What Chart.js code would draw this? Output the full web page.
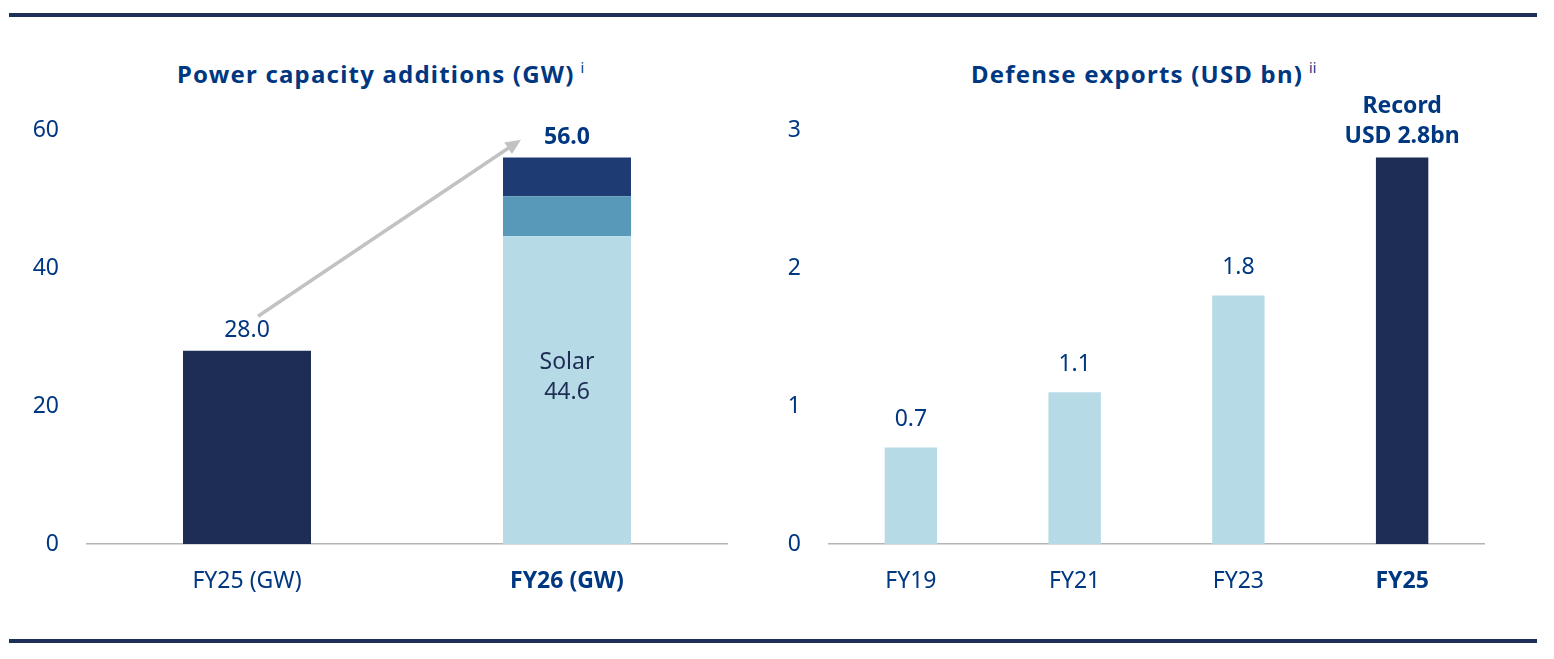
<!DOCTYPE html>
<html lang="en">
<head>
  <meta charset="UTF-8">
  <title>Power capacity additions and defense exports</title>
  <script src="https://cdn.jsdelivr.net/npm/chart.js"></script>
  <style>
    body {
      margin: 0;
      background: #fff;
      font-family: "Noto Sans", Arial, sans-serif;
    }
    .page {
      position: relative;
      width: 1554px;
      height: 659px;
      overflow: hidden;
    }
    .rule {
      position: absolute;
      left: 9px;
      width: 1528px;
      height: 4px;
      background: #1f3058;
    }
    .title {
      position: absolute;
      top: 57px;
      font-size: 24px;
      font-weight: bold;
      letter-spacing: 1.2px;
      color: #003781;
      white-space: nowrap;
    }
    .title sup {
      font-size: 14px;
      font-weight: normal;
      letter-spacing: 0;
      margin-left: 6px;
      vertical-align: 10px;
    }
    canvas {
      position: absolute;
      top: 0;
    }
  </style>
</head>
<body>
  <div class="page">
    <div class="rule" style="top: 13px;"></div>
    <div class="rule" style="top: 639px;"></div>
    <div class="title" style="left: 177px;">Power capacity additions (GW)<sup>i</sup></div>
    <div class="title" style="left: 971px;">Defense exports (USD bn)<sup>ii</sup></div>
    <canvas id="powerChart" width="760" height="659" style="left: 0;"></canvas>
    <canvas id="defenseChart" width="794" height="659" style="left: 760px;"></canvas>
  </div>

  <script>
    // left chart: power capacity additions (GW)
    const powerLabels = ['FY25 (GW)', 'FY26 (GW)'];
    const powerFY25 = [28.0, null];
    const powerSolar = [null, 44.6];
    const powerMid = [null, 5.8];
    const powerTop = [null, 5.6];
    const powerTotals = [28.0, 56.0];
    const powerTicks = [0, 20, 40, 60];

    // right chart: defense exports (USD bn)
    const defenseLabels = ['FY19', 'FY21', 'FY23', 'FY25'];
    const defenseValues = [0.7, 1.1, 1.8, 2.8];
    const defenseTicks = [0, 1, 2, 3];

    const textBlue = '#003781';
    const navy = '#1d2d54';
    const midBlue = '#1f3b73';
    const steel = '#5898b9';
    const lightBlue = '#b6dbe6';
    const axisGrey = '#b4b4b4';
    const fontFamily = '"Noto Sans", Arial, sans-serif';
    const fontSize = 23;

    Chart.defaults.font.family = fontFamily;
    Chart.defaults.color = textBlue;

    function drawText(ctx, text, x, y, weight, color) {
      ctx.save();
      ctx.font = weight + ' ' + fontSize + 'px ' + fontFamily;
      ctx.fillStyle = color;
      ctx.textAlign = 'center';
      ctx.textBaseline = 'middle';
      ctx.fillText(text, x, y);
      ctx.restore();
    }

    const powerLabelsPlugin = {
      id: 'powerLabels',
      afterDatasetsDraw(chart) {
        const ctx = chart.ctx;
        const xs = chart.scales.x;
        const ys = chart.scales.y;

        // arrow from FY25 to FY26
        const x0 = xs.getPixelForValue(0) + 11;
        const y0 = ys.getPixelForValue(33);
        const x1 = xs.getPixelForValue(1) - 46;
        const y1 = ys.getPixelForValue(58.6);
        const ang = Math.atan2(y1 - y0, x1 - x0);
        const head = 17;
        ctx.save();
        ctx.strokeStyle = '#c2c2c2';
        ctx.fillStyle = '#c2c2c2';
        ctx.lineWidth = 3.5;
        ctx.beginPath();
        ctx.moveTo(x0, y0);
        ctx.lineTo(x1 - Math.cos(ang) * head * 0.7, y1 - Math.sin(ang) * head * 0.7);
        ctx.stroke();
        ctx.beginPath();
        ctx.moveTo(x1, y1);
        ctx.lineTo(x1 - head * Math.cos(ang - 0.42), y1 - head * Math.sin(ang - 0.42));
        ctx.lineTo(x1 - head * Math.cos(ang + 0.42), y1 - head * Math.sin(ang + 0.42));
        ctx.closePath();
        ctx.fill();
        ctx.restore();

        // totals above bars
        powerTotals.forEach((v, i) => {
          const x = xs.getPixelForValue(i);
          const y = ys.getPixelForValue(v) - 20;
          drawText(ctx, v.toFixed(1), x, y, i === 1 ? 'bold' : 'normal', textBlue);
        });

        // solar segment label
        const sx = xs.getPixelForValue(1);
        const sTop = ys.getPixelForValue(powerSolar[1]);
        drawText(ctx, 'Solar', sx, sTop + 126, 'normal', navy);
        drawText(ctx, powerSolar[1].toFixed(1), sx, sTop + 156, 'normal', navy);
      }
    };

    const defenseLabelsPlugin = {
      id: 'defenseLabels',
      afterDatasetsDraw(chart) {
        const ctx = chart.ctx;
        const xs = chart.scales.x;
        const ys = chart.scales.y;
        defenseValues.forEach((v, i) => {
          const x = xs.getPixelForValue(i);
          const top = ys.getPixelForValue(v);
          if (i === defenseValues.length - 1) {
            drawText(ctx, 'Record', x, top - 51, 'bold', textBlue);
            drawText(ctx, 'USD ' + v.toFixed(1) + 'bn', x, top - 21, 'bold', textBlue);
          } else {
            drawText(ctx, v.toFixed(1), x, top - 28, 'normal', textBlue);
          }
        });
      }
    };

    function axisOptions(ticks, max, lastBold, yWidth) {
      return {
        x: {
          stacked: true,
          grid: { display: false, drawTicks: false },
          border: { display: true, color: axisGrey, width: 1.5 },
          ticks: {
            padding: 24,
            color: textBlue,
            font: c => ({ size: fontSize, weight: c.index === lastBold ? 'bold' : 'normal' })
          },
          afterFit: s => { s.height = 115; }
        },
        y: {
          stacked: true,
          min: 0,
          max: max,
          grid: { display: false, drawTicks: false },
          border: { display: false },
          afterBuildTicks: s => { s.ticks = ticks.map(v => ({ value: v })); },
          ticks: { padding: 28, color: textBlue, font: { size: fontSize } },
          afterFit: s => { s.width = yWidth; }
        }
      };
    }

    new Chart(document.getElementById('powerChart'), {
      type: 'bar',
      data: {
        labels: powerLabels,
        datasets: [
          { label: 'FY25', data: powerFY25, backgroundColor: navy },
          { label: 'Solar', data: powerSolar, backgroundColor: lightBlue },
          { label: 'Other renewables', data: powerMid, backgroundColor: steel },
          { label: 'Other', data: powerTop, backgroundColor: midBlue }
        ]
      },
      options: {
        responsive: false,
        animation: false,
        devicePixelRatio: 1,
        categoryPercentage: 1,
        barPercentage: 0.4,
        layout: { padding: { top: 130, right: 33, bottom: 0, left: 0 } },
        plugins: { legend: { display: false }, tooltip: { enabled: false } },
        scales: axisOptions(powerTicks, 60, 1, 87)
      },
      plugins: [powerLabelsPlugin]
    });

    new Chart(document.getElementById('defenseChart'), {
      type: 'bar',
      data: {
        labels: defenseLabels,
        datasets: [{
          label: 'Defense exports',
          data: defenseValues,
          backgroundColor: defenseValues.map((v, i) => i === defenseValues.length - 1 ? navy : lightBlue)
        }]
      },
      options: {
        responsive: false,
        animation: false,
        devicePixelRatio: 1,
        categoryPercentage: 1,
        barPercentage: 0.32,
        layout: { padding: { top: 130, right: 70, bottom: 0, left: 0 } },
        plugins: { legend: { display: false }, tooltip: { enabled: false } },
        scales: axisOptions(defenseTicks, 3, 3, 69)
      },
      plugins: [defenseLabelsPlugin]
    });
  </script>
</body>
</html>
